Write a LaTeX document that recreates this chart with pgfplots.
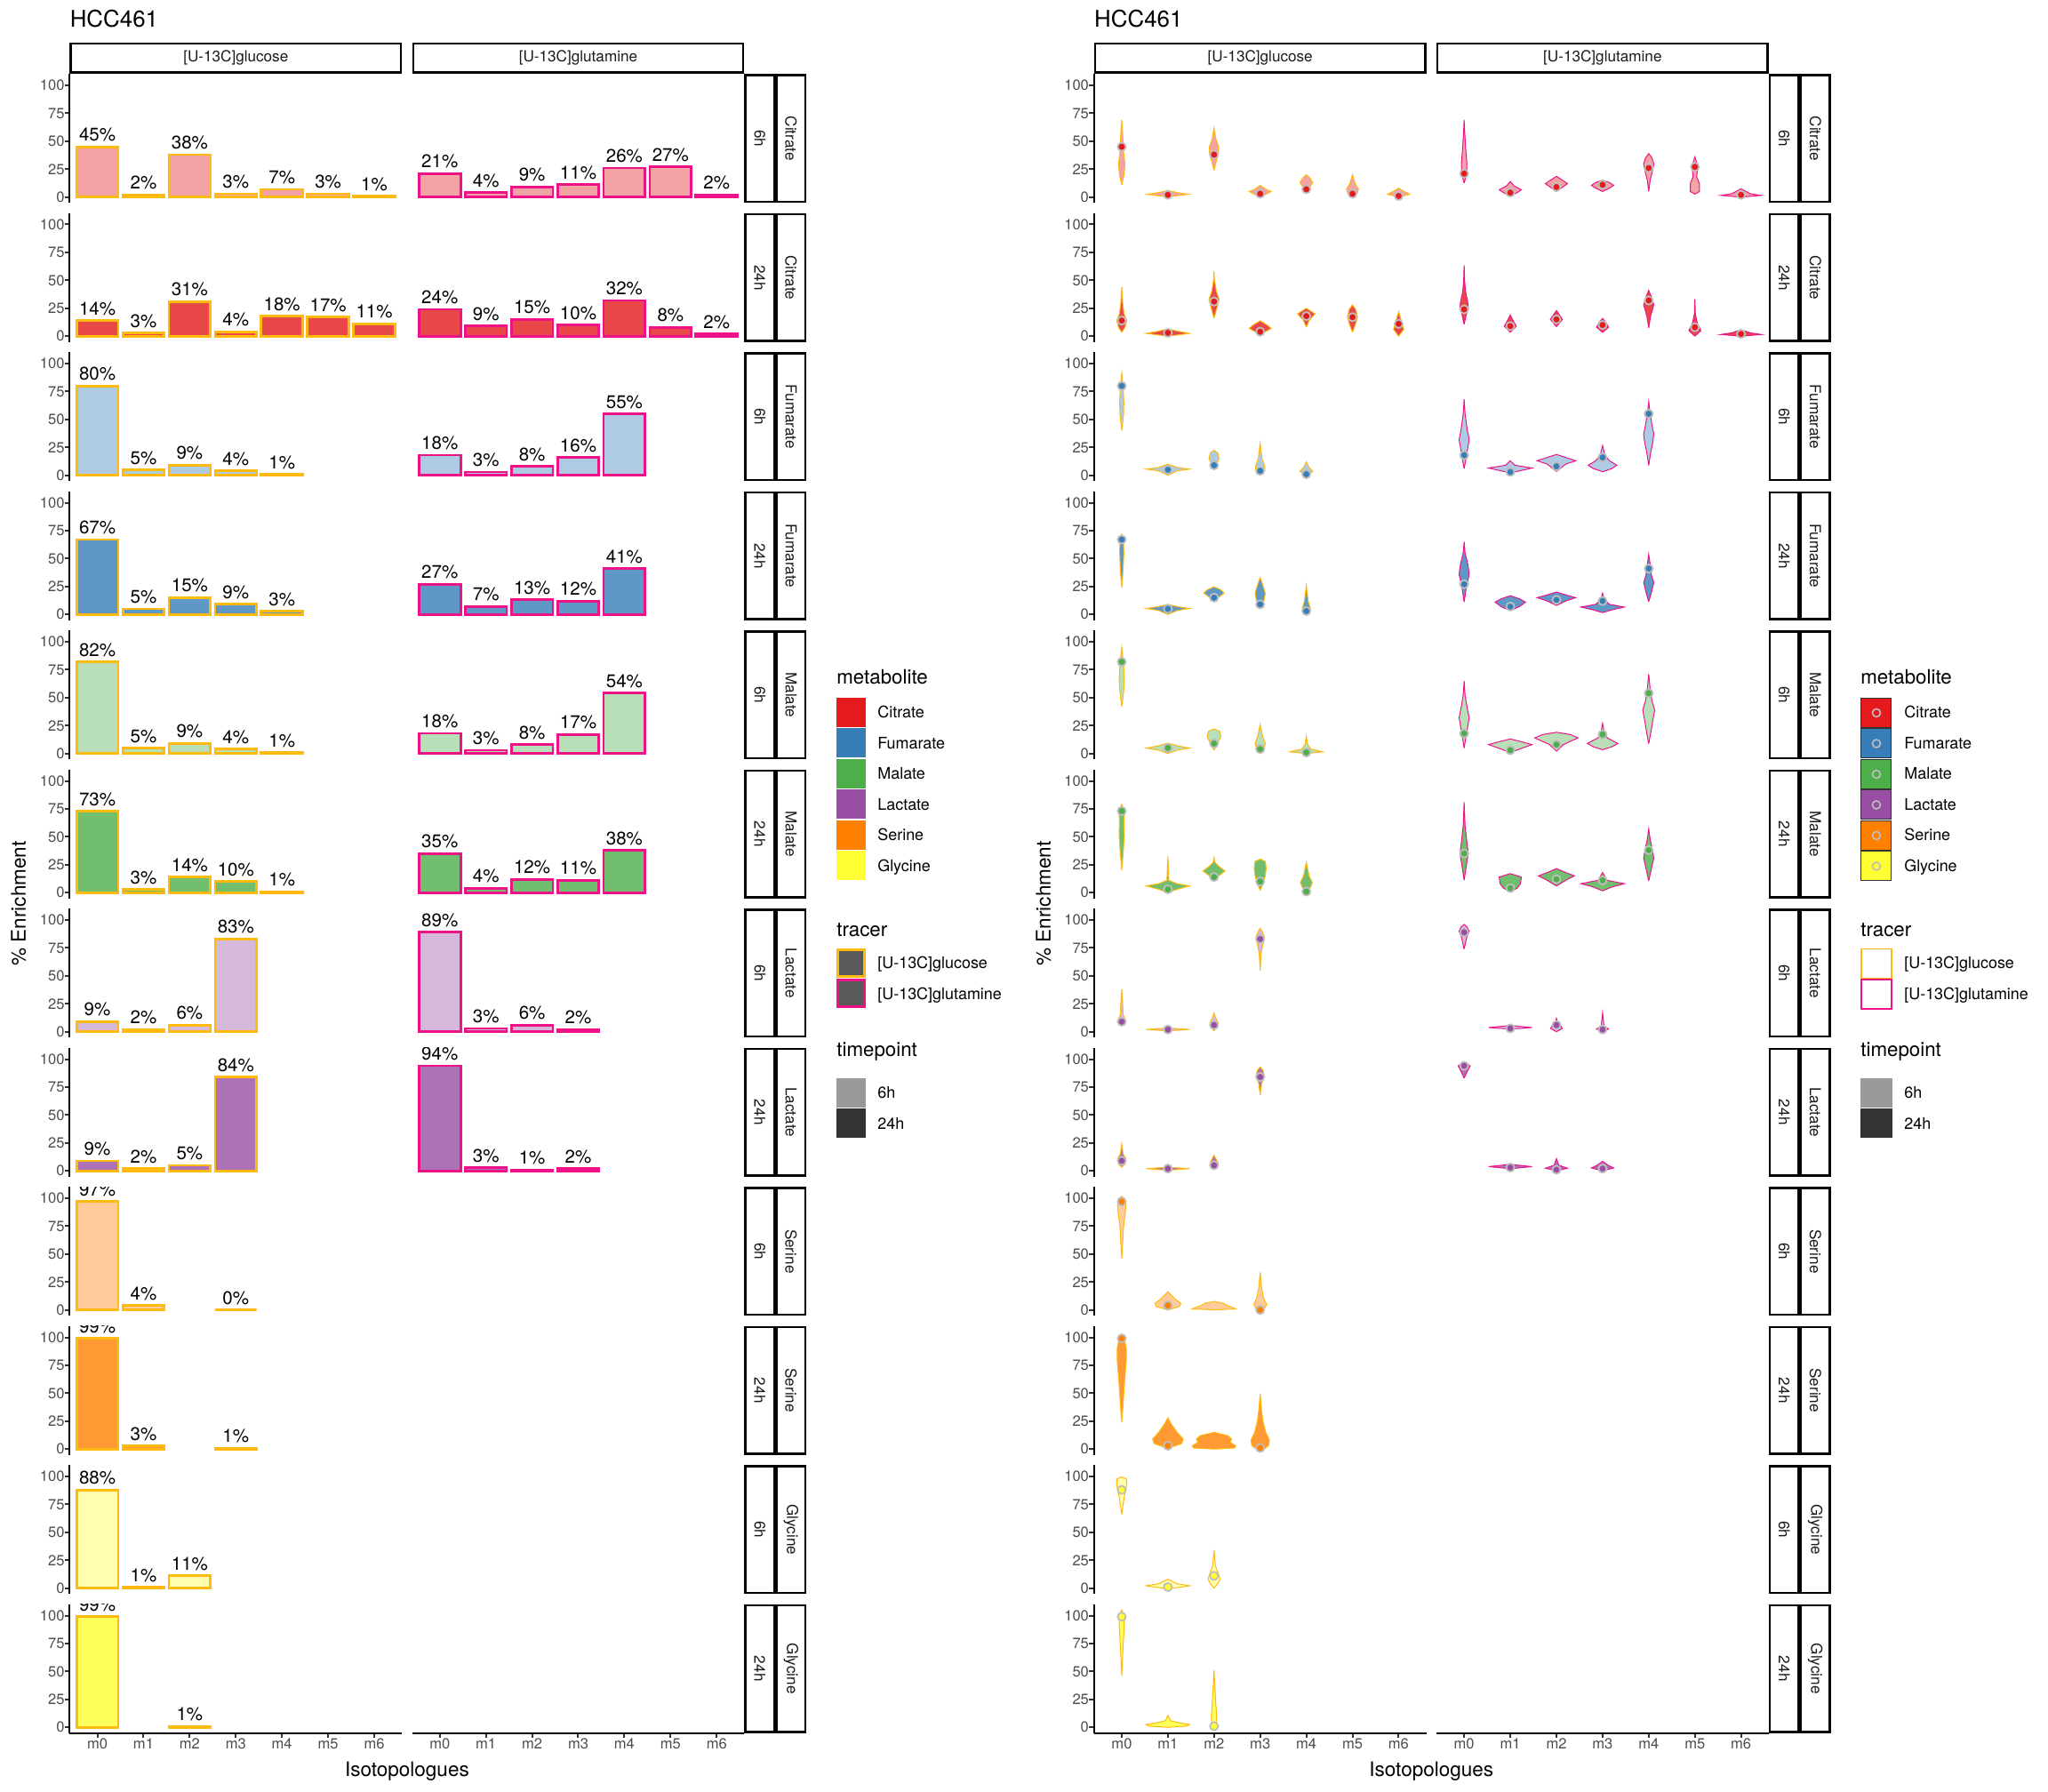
\documentclass[border=0pt]{standalone}
\usepackage{fontspec}
\setmainfont{TeX Gyre Heros}
\usepackage{pgfplots}
\pgfplotsset{compat=1.18}
\pgfkeys{/pgf/number format/assume math mode=true}

\definecolor{citrate}{HTML}{E41A1C}
\definecolor{fumarate}{HTML}{377EB8}
\definecolor{malate}{HTML}{4DAF4A}
\definecolor{lactate}{HTML}{984EA3}
\definecolor{serine}{HTML}{FF7F00}
\definecolor{glycine}{HTML}{FFFF33}
\definecolor{glc}{HTML}{FFB90F}
\definecolor{gln}{HTML}{EE1289}
\definecolor{grey10}{HTML}{1A1A1A}
\definecolor{grey20}{HTML}{333333}
\definecolor{grey30}{HTML}{4D4D4D}
\definecolor{grey35}{HTML}{595959}
\definecolor{grey60}{HTML}{999999}
\definecolor{ptgrey}{HTML}{BEBEBE}

\newcommand\fTick{\fontsize{8.3}{9}\selectfont}
\newcommand\fStrip{\fontsize{8.6}{10}\selectfont}
\newcommand\fLab{\fontsize{10.3}{12}\selectfont}
\newcommand\fAxT{\fontsize{11.3}{13}\selectfont}
\newcommand\fTitle{\fontsize{13}{15}\selectfont}
\newcommand\fLegT{\fontsize{11.2}{13}\selectfont}
\newcommand\fLeg{\fontsize{9}{11}\selectfont}

\pgfplotsset{
  panel/.style={scale only axis, width=186.9bp, height=72.5bp, anchor=north west,
    xmin=-0.6, xmax=6.6, ymin=-5.25, ymax=110.1,
    ytick={0,25,50,75,100}, xtick={0,1,2,3,4,5,6},
    xticklabels={m0,m1,m2,m3,m4,m5,m6},
    tick align=outside, major tick length=2.75bp,
    tick style={line width=1bp, grey20},
    axis line style={line width=1.1bp, black},
    ticklabel style={font=\fTick, text=grey30},
    yticklabel style={anchor=east, inner sep=0pt},
    xticklabel style={anchor=north, inner sep=0pt},
    clip marker paths=true,
    every node near coord/.append style={anchor=south, inner sep=0pt, yshift=2.3bp, font=\fLab, text=black},
  },
  L/.style={axis y line*=left},
  nL/.style={hide y axis},
  B/.style={axis x line*=bottom},
  nB/.style={hide x axis},
}

\newcommand\bars[6]{%
  \begin{axis}[panel,#3,at={(#1bp,-#2bp)}]
  \addplot[ybar,bar width=0.9,bar shift=0pt,fill=#4,draw=#5,line width=1.4bp,
    nodes near coords={\pgfmathprintnumber{\pgfplotspointmeta}\%}] coordinates {#6};
  \end{axis}}

\newcommand\emptypanel[3]{%
  \begin{axis}[panel,#3,at={(#1bp,-#2bp)}]
  \end{axis}}

% violin: centre, fill, draw, list of y/halfwidth from bottom to top
\newcommand\violin[4]{%
  \gdef\vR{}\gdef\vL{}%
  \foreach \yy/\ww in {#4}{%
    \pgfmathsetmacro\xr{#1+\ww}\pgfmathsetmacro\xl{#1-\ww}%
    \xdef\vR{\vR(\xr,\yy)}\xdef\vL{(\xl,\yy)\vL}}%
  \edef\tmp{\noexpand\addplot[fill=#2,draw=#3,line width=0.5bp] coordinates {\vR\vL};}\tmp}
\newcommand\V[2]{\violin{#1}{\vf}{\vd}{#2}}
\newcommand\means[2]{\addplot[only marks,mark=*,mark size=2.3bp,mark options={fill=#1,draw=ptgrey,line width=0.9bp}] coordinates {#2};}

\begin{document}
\begin{tikzpicture}
\useasboundingbox (0,0) rectangle (1152bp,-1008bp);

% ================= LEFT: BARS =================
\bars{39.2}{41.65}{L,nB}{citrate!40!white}{glc}{(0,45)(1,2)(2,38)(3,3)(4,7)(5,3)(6,1)}
\bars{231.8}{41.65}{nL,nB}{citrate!40!white}{gln}{(0,21)(1,4)(2,9)(3,11)(4,26)(5,27)(6,2)}
\bars{39.2}{119.9}{L,nB}{citrate!80!white}{glc}{(0,14)(1,3)(2,31)(3,4)(4,18)(5,17)(6,11)}
\bars{231.8}{119.9}{nL,nB}{citrate!80!white}{gln}{(0,24)(1,9)(2,15)(3,10)(4,32)(5,8)(6,2)}
\bars{39.2}{198.15}{L,nB}{fumarate!40!white}{glc}{(0,80)(1,5)(2,9)(3,4)(4,1)}
\bars{231.8}{198.15}{nL,nB}{fumarate!40!white}{gln}{(0,18)(1,3)(2,8)(3,16)(4,55)}
\bars{39.2}{276.4}{L,nB}{fumarate!80!white}{glc}{(0,67)(1,5)(2,15)(3,9)(4,3)}
\bars{231.8}{276.4}{nL,nB}{fumarate!80!white}{gln}{(0,27)(1,7)(2,13)(3,12)(4,41)}
\bars{39.2}{354.65}{L,nB}{malate!40!white}{glc}{(0,82)(1,5)(2,9)(3,4)(4,1)}
\bars{231.8}{354.65}{nL,nB}{malate!40!white}{gln}{(0,18)(1,3)(2,8)(3,17)(4,54)}
\bars{39.2}{432.9}{L,nB}{malate!80!white}{glc}{(0,73)(1,3)(2,14)(3,10)(4,1)}
\bars{231.8}{432.9}{nL,nB}{malate!80!white}{gln}{(0,35)(1,4)(2,12)(3,11)(4,38)}
\bars{39.2}{511.15}{L,nB}{lactate!40!white}{glc}{(0,9)(1,2)(2,6)(3,83)}
\bars{231.8}{511.15}{nL,nB}{lactate!40!white}{gln}{(0,89)(1,3)(2,6)(3,2)}
\bars{39.2}{589.4}{L,nB}{lactate!80!white}{glc}{(0,9)(1,2)(2,5)(3,84)}
\bars{231.8}{589.4}{nL,nB}{lactate!80!white}{gln}{(0,94)(1,3)(2,1)(3,2)}
\bars{39.2}{667.65}{L,nB}{serine!40!white}{glc}{(0,97)(1,4)(3,0)}
\bars{39.2}{745.9}{L,nB}{serine!80!white}{glc}{(0,99)(1,3)(3,1)}
\bars{39.2}{824.15}{L,nB}{glycine!40!white}{glc}{(0,88)(1,1)(2,11)}
\bars{39.2}{902.4}{L,B}{glycine!80!white}{glc}{(0,99)(2,1)}
\emptypanel{231.8}{902.4}{nL,B}

% ================= RIGHT: VIOLINS =================
% Citrate 6h
\begin{axis}[panel,L,nB,at={(615.4bp,-41.65bp)}]
\def\vf{citrate!40!white}\def\vd{glc}
\V{0}{11/0,20/0.05,30/0.07,40/0.04,50/0.03,60/0.015,69/0}
\V{1}{0/0,1.5/0.25,2.5/0.45,4/0.2,6/0}
\V{2}{24/0,32/0.05,40/0.1,45/0.1,52/0.04,62/0}
\V{3}{0/0,3/0.15,5/0.24,7/0.12,10.5/0}
\V{4}{3/0,8/0.06,13/0.14,17/0.08,20/0}
\V{5}{0/0,3/0.1,7/0.13,12/0.06,20/0}
\V{6}{0/0,2.5/0.24,5/0.12,8/0}
\means{citrate}{(0,45)(1,2)(2,38)(3,3)(4,7)(5,3)(6,1)}
\end{axis}
\begin{axis}[panel,nL,nB,at={(808bp,-41.65bp)}]
\def\vf{citrate!40!white}\def\vd{gln}
\V{0}{12.5/0,20/0.05,30/0.06,45/0.03,60/0.01,69/0}
\V{1}{1/0,4/0.15,6.5/0.24,10/0.08,14/0}
\V{2}{5/0,12/0.24,18.6/0}
\V{3}{5/0,8/0.15,10.5/0.24,13/0.15,15/0}
\V{4}{5/0,15/0.03,25/0.09,30/0.11,35/0.07,39/0}
\V{5}{2.6/0,5/0.1,12/0.1,18/0.04,27/0.06,32/0.03,36/0}
\V{6}{0/0,1.5/0.44,3/0.2,7.4/0}
\means{citrate}{(0,21)(1,4)(2,9)(3,11)(4,26)(5,27)(6,2)}
\end{axis}
% Citrate 24h
\begin{axis}[panel,L,nB,at={(615.4bp,-119.9bp)}]
\def\vf{citrate!80!white}\def\vd{glc}
\V{0}{3.4/0,8/0.07,14/0.11,20/0.05,30/0.02,44/0}
\V{1}{0/0,2.5/0.47,4.5/0.2,6.6/0}
\V{2}{16/0,25/0.06,33/0.11,40/0.05,50/0.01,58/0}
\V{3}{1.3/0,7/0.24,10/0.15,13.8/0}
\V{4}{8/0,14/0.06,20/0.19,25/0}
\V{5}{3.4/0,10/0.06,17/0.11,24/0.07,28/0}
\V{6}{0/0,6/0.11,12/0.07,22/0}
\means{citrate}{(0,14)(1,3)(2,31)(3,4)(4,18)(5,17)(6,11)}
\end{axis}
\begin{axis}[panel,nL,nB,at={(808bp,-119.9bp)}]
\def\vf{citrate!80!white}\def\vd{gln}
\V{0}{10.6/0,20/0.05,25/0.09,30/0.08,40/0.03,50/0.01,63.5/0}
\V{1}{3.4/0,9/0.13,14/0.06,19/0}
\V{2}{8.5/0,15/0.13,23/0}
\V{3}{3.4/0,8/0.13,12/0.08,15.9/0}
\V{4}{7.4/0,18/0.04,28/0.11,35/0.06,41/0}
\V{5}{0/0,5/0.13,12/0.05,20/0.01,33/0}
\V{6}{0/0,1.5/0.44,3/0.2,5.8/0}
\means{citrate}{(0,24)(1,9)(2,15)(3,10)(4,32)(5,8)(6,2)}
\end{axis}
% Fumarate 6h
\begin{axis}[panel,L,nB,at={(615.4bp,-198.15bp)}]
\def\vf{fumarate!40!white}\def\vd{glc}
\V{0}{40/0,55/0.04,65/0.045,80/0.03,91.5/0}
\V{1}{0/0,4/0.2,5.5/0.47,7/0.2,10/0}
\V{2}{4.8/0,10/0.06,15/0.11,20/0.08,22.5/0}
\V{3}{0/0,4/0.1,8/0.1,15/0.04,28.6/0}
\V{4}{0/0,3.5/0.14,7/0.06,12/0}
\means{fumarate}{(0,80)(1,5)(2,9)(3,4)(4,1)}
\end{axis}
\begin{axis}[panel,nL,nB,at={(808bp,-198.15bp)}]
\def\vf{fumarate!40!white}\def\vd{gln}
\V{0}{6/0,15/0.04,25/0.08,32/0.11,40/0.07,55/0.02,68/0}
\V{1}{0/0,3/0.1,6.5/0.47,9/0.1,13/0}
\V{2}{3.4/0,10/0.2,13/0.42,16/0.2,18.6/0}
\V{3}{3.2/0,6/0.2,9/0.31,13/0.15,18/0.05,26.5/0}
\V{4}{8.8/0,20/0.04,30/0.09,37/0.11,45/0.07,55/0.03,66/0}
\means{fumarate}{(0,18)(1,3)(2,8)(3,16)(4,55)}
\end{axis}
% Fumarate 24h
\begin{axis}[panel,L,nB,at={(615.4bp,-276.4bp)}]
\def\vf{fumarate!80!white}\def\vd{glc}
\V{0}{24/0,40/0.03,55/0.045,65/0.04,72/0}
\V{1}{0/0,3.5/0.2,5.3/0.47,7/0.2,9/0}
\V{2}{11.4/0,16/0.12,19/0.22,22/0.15,24.6/0}
\V{3}{6/0,12/0.08,19/0.11,26/0.06,33/0}
\V{4}{0/0,5/0.09,12/0.04,26/0}
\means{fumarate}{(0,67)(1,5)(2,15)(3,9)(4,3)}
\end{axis}
\begin{axis}[panel,nL,nB,at={(808bp,-276.4bp)}]
\def\vf{fumarate!80!white}\def\vd{gln}
\V{0}{11/0,25/0.05,36/0.11,45/0.08,55/0.02,65/0}
\V{1}{3.4/0,7/0.2,11/0.33,14/0.2,16.7/0}
\V{2}{8/0,12/0.2,15/0.42,17.5/0.2,20/0}
\V{3}{1.6/0,4/0.2,6.6/0.47,9/0.15,13/0.04,19/0}
\V{4}{11.4/0,20/0.06,28.6/0.11,35/0.06,45/0.03,53.7/0}
\means{fumarate}{(0,27)(1,7)(2,13)(3,12)(4,41)}
\end{axis}
% Malate 6h
\begin{axis}[panel,L,nB,at={(615.4bp,-354.65bp)}]
\def\vf{malate!40!white}\def\vd{glc}
\V{0}{42/0,55/0.04,65/0.055,80/0.04,95/0}
\V{1}{0/0,3/0.2,4.8/0.47,7/0.2,9.3/0}
\V{2}{2.9/0,8/0.06,15/0.15,20/0.12,22/0}
\V{3}{0/0,4/0.08,9/0.11,16/0.05,26/0}
\V{4}{0/0,1.5/0.36,4/0.1,8/0.03,15.4/0}
\means{malate}{(0,82)(1,5)(2,9)(3,4)(4,1)}
\end{axis}
\begin{axis}[panel,nL,nB,at={(808bp,-354.65bp)}]
\def\vf{malate!40!white}\def\vd{gln}
\V{0}{4.8/0,15/0.04,25/0.08,32/0.11,40/0.07,52/0.02,65/0}
\V{1}{0.8/0,4/0.2,8/0.47,11/0.2,13/0}
\V{2}{2/0,8/0.15,14/0.47,17/0.3,19/0}
\V{3}{3.4/0,6/0.2,9/0.33,14/0.1,20/0.03,27/0}
\V{4}{8.8/0,20/0.05,30/0.09,39/0.13,47/0.07,58/0.03,71/0}
\means{malate}{(0,18)(1,3)(2,8)(3,17)(4,54)}
\end{axis}
% Malate 24h
\begin{axis}[panel,L,nB,at={(615.4bp,-432.9bp)}]
\def\vf{malate!80!white}\def\vd{glc}
\V{0}{20/0,35/0.03,50/0.055,65/0.05,73/0.06,79/0}
\V{1}{0/0,3/0.2,6/0.47,8/0.2,11/0.02,32.7/0}
\V{2}{10/0,15/0.1,19.4/0.24,23/0.12,27/0.02,31.4/0}
\V{3}{2/0,8/0.06,15/0.11,22/0.13,28/0.11,30/0}
\V{4}{0/0,4/0.08,9/0.13,15/0.06,27/0}
\means{malate}{(0,73)(1,3)(2,14)(3,10)(4,1)}
\end{axis}
\begin{axis}[panel,nL,nB,at={(808bp,-432.9bp)}]
\def\vf{malate!80!white}\def\vd{gln}
\V{0}{11/0,25/0.05,35/0.09,45/0.06,60/0.02,81/0}
\V{1}{0.8/0,4/0.15,8/0.22,14/0.24,17/0}
\V{2}{6/0,11/0.2,15/0.39,18/0.2,21.5/0}
\V{3}{1.6/0,5/0.2,8/0.47,11/0.1,18/0}
\V{4}{10.6/0,20/0.05,31/0.11,40/0.07,48/0.03,57/0}
\means{malate}{(0,35)(1,4)(2,12)(3,11)(4,38)}
\end{axis}
% Lactate 6h
\begin{axis}[panel,L,nB,at={(615.4bp,-511.15bp)}]
\def\vf{lactate!40!white}\def\vd{glc}
\V{0}{6.6/0,10/0.09,15/0.03,25/0.02,38/0}
\V{1}{0.8/0,2/0.47,3.4/0}
\V{2}{0.8/0,5/0.08,8/0.09,12/0.04,16.7/0}
\V{3}{55/0,70/0.02,80/0.07,85/0.09,90/0.04,92.6/0}
\means{lactate}{(0,9)(1,2)(2,6)(3,83)}
\end{axis}
\begin{axis}[panel,nL,nB,at={(808bp,-511.15bp)}]
\def\vf{lactate!40!white}\def\vd{gln}
\V{0}{74/0,85/0.06,90/0.11,94/0.06,96/0}
\V{1}{2.4/0,3.8/0.47,5.6/0}
\V{2}{0/0,3/0.13,6/0.08,9/0.02,12/0}
\V{3}{0/0,2.5/0.13,5/0.03,17/0}
\means{lactate}{(0,89)(1,3)(2,6)(3,2)}
\end{axis}
% Lactate 24h
\begin{axis}[panel,L,nB,at={(615.4bp,-589.4bp)}]
\def\vf{lactate!80!white}\def\vd{glc}
\V{0}{3.2/0,6/0.07,11/0.09,15/0.03,24.4/0}
\V{1}{0.5/0,2/0.47,3.2/0}
\V{2}{1.9/0,7/0.09,14/0}
\V{3}{68/0,78/0.03,85/0.09,90/0.06,93/0}
\means{lactate}{(0,9)(1,2)(2,5)(3,84)}
\end{axis}
\begin{axis}[panel,nL,nB,at={(808bp,-589.4bp)}]
\def\vf{lactate!80!white}\def\vd{gln}
\V{0}{83/0,90/0.08,94/0.13,97.3/0}
\V{1}{1.9/0,3.8/0.47,5.8/0}
\V{2}{0/0,2.4/0.24,5/0.05,11/0}
\V{3}{0/0,2.6/0.24,5/0.12,8.5/0}
\means{lactate}{(0,94)(1,3)(2,1)(3,2)}
\end{axis}
% Serine 6h
\begin{axis}[panel,L,nB,at={(615.4bp,-667.65bp)}]
\def\vf{serine!40!white}\def\vd{glc}
\V{0}{46/0,60/0.02,75/0.04,88/0.08,95/0.09,100/0.05,101.6/0}
\V{1}{0/0,3/0.25,6/0.28,10/0.15,16.4/0}
\V{2}{0/0,1/0.47,2/0.42,4/0.28,6/0.2,7.7/0}
\V{3}{-1/0,2/0.1,5/0.14,10/0.08,20/0.03,33.6/0}
\means{serine}{(0,97)(1,4)(3,0)}
\end{axis}
% Serine 24h
\begin{axis}[panel,L,nB,at={(615.4bp,-745.9bp)}]
\def\vf{serine!80!white}\def\vd{glc}
\V{0}{24/0,40/0.03,60/0.06,80/0.1,90/0.1,98/0.06,103/0}
\V{1}{0.5/0,5/0.3,9/0.33,15/0.2,22/0.08,28/0}
\V{2}{0/0,1/0.45,3/0.47,6/0.35,9/0.38,12/0.3,15/0}
\V{3}{-2.6/0,3/0.18,8/0.2,15/0.12,25/0.06,35/0.03,49.5/0}
\means{serine}{(0,99)(1,3)(3,1)}
\end{axis}
% Glycine 6h
\begin{axis}[panel,L,nB,at={(615.4bp,-824.15bp)}]
\def\vf{glycine!40!white}\def\vd{glc}
\V{0}{66/0,75/0.03,83/0.06,88/0.09,93/0.11,98/0.1,99.5/0}
\V{1}{-0.5/0,1/0.3,2.2/0.47,4/0.2,8/0}
\V{2}{0/0,4/0.08,8/0.13,12/0.1,20/0.03,34/0}
\means{glycine}{(0,88)(1,1)(2,11)}
\end{axis}
% Glycine 24h
\begin{axis}[panel,L,B,at={(615.4bp,-902.4bp)}]
\def\vf{glycine!80!white}\def\vd{glc}
\V{0}{46/0,65/0.02,80/0.04,92/0.055,100/0.05,105/0}
\V{1}{0/0,1/0.4,2.5/0.47,4/0.25,6/0.05,10.7/0}
\V{2}{-0.5/0,5/0.05,10/0.06,20/0.04,35/0.02,51/0}
\means{glycine}{(0,99)(2,1)}
\end{axis}
\emptypanel{808}{902.4}{nL,B}

% ================= DECORATION =================
\begin{scope}[x=0.5bp,y=-0.5bp]
\node[anchor=base west,inner sep=0,font=\fTitle] at (78.4,30.7) {HCC461};
\node[anchor=base west,inner sep=0,font=\fTitle] at (1230.8,30.7) {HCC461};
% column strips
\foreach \xa/\xb/\lab in {78.4/452.2/{[U-13C]glucose},463.6/837.4/{[U-13C]glutamine},1230.8/1604.6/{[U-13C]glucose},1616/1989.8/{[U-13C]glutamine}}{
  \draw[line width=1.2bp] ({\xa+1.2},49) rectangle ({\xb-1.2},81.5);
  \node[font=\fStrip,text=grey10] at ({(\xa+\xb)/2},65.2) {\lab};
}
% row strips
\foreach \r/\tp/\met in {0/6h/Citrate,1/24h/Citrate,2/6h/Fumarate,3/24h/Fumarate,4/6h/Malate,5/24h/Malate,6/6h/Lactate,7/24h/Lactate,8/6h/Serine,9/24h/Serine,10/6h/Glycine,11/24h/Glycine}{
  \pgfmathsetmacro\yt{83.3+156.5*\r}
  \foreach \dx in {0,1152.4}{
    \draw[line width=1.2bp] ({837.4+\dx+1.2},{\yt+1.2}) rectangle ({872.4+\dx-1.2},{\yt+143.8});
    \draw[line width=1.2bp] ({872.4+\dx+1.2},{\yt+1.2}) rectangle ({907.4+\dx-1.2},{\yt+143.8});
    \node[font=\fStrip,text=grey10,rotate=-90] at ({854.9+\dx},{\yt+72.5}) {\tp};
    \node[font=\fStrip,text=grey10,rotate=-90] at ({889.9+\dx},{\yt+72.5}) {\met};
  }
}
% axis titles
\node[font=\fAxT,rotate=90] at (21,1016.5) {\% Enrichment};
\node[font=\fAxT,rotate=90] at (1174,1016.5) {\% Enrichment};
\node[font=\fAxT] at (457.9,1993) {Isotopologues};
\node[font=\fAxT] at (1610.3,1993) {Isotopologues};

% ---- left legend
\node[anchor=base west,inner sep=0,font=\fLegT] at (941,770) {metabolite};
\foreach \i/\c/\n in {0/citrate/Citrate,1/fumarate/Fumarate,2/malate/Malate,3/lactate/Lactate,4/serine/Serine,5/glycine/Glycine}{
  \pgfmathsetmacro\ky{785+34.5*\i}
  \fill[\c] (941,\ky) rectangle (974,{\ky+33});
  \node[anchor=base west,inner sep=0,font=\fLeg] at (987,{\ky+23}) {\n};
}
\node[anchor=base west,inner sep=0,font=\fLegT] at (941,1054) {tracer};
\foreach \i/\c/\n in {0/glc/{[U-13C]glucose},1/gln/{[U-13C]glutamine}}{
  \pgfmathsetmacro\ky{1067+34.5*\i}
  \fill[grey35] (941,\ky) rectangle (974,{\ky+33});
  \draw[\c,line width=1.5bp] (942.5,{\ky+1.5}) rectangle (972.5,{\ky+31.5});
  \node[anchor=base west,inner sep=0,font=\fLeg] at (987,{\ky+23}) {\n};
}
\node[anchor=base west,inner sep=0,font=\fLegT] at (941,1188.7) {timepoint};
\foreach \i/\c/\n in {0/grey60/6h,1/grey20/24h}{
  \pgfmathsetmacro\ky{1213+34.5*\i}
  \fill[\c] (941,\ky) rectangle (974,{\ky+33});
  \node[anchor=base west,inner sep=0,font=\fLeg] at (987,{\ky+23}) {\n};
}
% ---- right legend
\node[anchor=base west,inner sep=0,font=\fLegT] at (2093,770) {metabolite};
\foreach \i/\c/\n in {0/citrate/Citrate,1/fumarate/Fumarate,2/malate/Malate,3/lactate/Lactate,4/serine/Serine,5/glycine/Glycine}{
  \pgfmathsetmacro\ky{785+34.5*\i}
  \filldraw[fill=\c,draw=grey20,line width=0.5bp] (2094,{\ky+0.5}) rectangle (2128,{\ky+33.5});
  \draw[ptgrey,line width=0.8bp] (2111,{\ky+17}) circle[radius=4.5];
  \node[anchor=base west,inner sep=0,font=\fLeg] at (2142,{\ky+23}) {\n};
}
\node[anchor=base west,inner sep=0,font=\fLegT] at (2093,1054) {tracer};
\foreach \i/\c/\n in {0/glc/{[U-13C]glucose},1/gln/{[U-13C]glutamine}}{
  \pgfmathsetmacro\ky{1067+34.5*\i}
  \draw[\c,line width=0.6bp] (2094,{\ky+0.5}) rectangle (2128,{\ky+33.5});
  \node[anchor=base west,inner sep=0,font=\fLeg] at (2142,{\ky+23}) {\n};
}
\node[anchor=base west,inner sep=0,font=\fLegT] at (2093,1188.7) {timepoint};
\foreach \i/\c/\n in {0/grey60/6h,1/grey20/24h}{
  \pgfmathsetmacro\ky{1213+34.5*\i}
  \fill[\c] (2093,\ky) rectangle (2129,{\ky+33});
  \node[anchor=base west,inner sep=0,font=\fLeg] at (2142,{\ky+23}) {\n};
}
\end{scope}
\end{tikzpicture}
\end{document}
